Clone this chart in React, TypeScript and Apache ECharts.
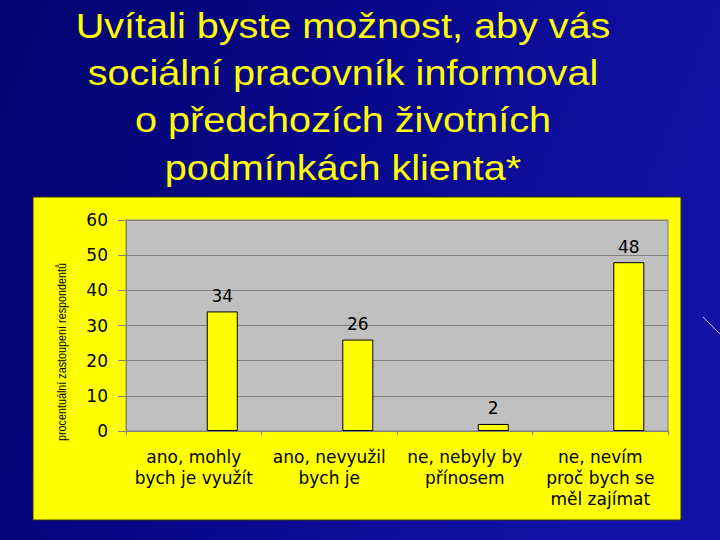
import React, { useEffect, useRef } from "react";
import * as echarts from "echarts";

const titleLines = [
  "Uvítali byste možnost, aby vás",
  "sociální pracovník informoval",
  "o předchozích životních",
  "podmínkách klienta*",
];
const categories = [
  "ano, mohly\nbych je využít",
  "ano, nevyužil\nbych je",
  "ne, nebyly by\npřínosem",
  "ne, nevím\nproč bych se\nměl zajímat",
];
const values = [34, 26, 2, 48];
const yAxisTitle = "procentuální zastoupení respondentů";

const WIDE = '"DejaVu Sans", Verdana, sans-serif';

export default function App() {
  const ref = useRef<HTMLDivElement>(null);
  useEffect(() => {
    if (!ref.current) return;
    const chart = echarts.init(ref.current, undefined, { renderer: "svg" });
    const titleY = [44, 91, 138, 186];
    chart.setOption({
      animation: false,
      backgroundColor: {
        type: "linear",
        x: 0,
        y: 0,
        x2: 1,
        y2: 0.3,
        colorStops: [
          { offset: 0, color: "#03036e" },
          { offset: 0.5, color: "#08088a" },
          { offset: 1, color: "#1212a6" },
        ],
      },
      graphic: [
        ...titleLines.map((t, i) => ({
          type: "text",
          x: 343,
          y: titleY[i],
          scaleX: 1.1,
          style: {
            text: t,
            fill: "#ffff00",
            font: '36px "Liberation Sans", Arial, sans-serif',
            textAlign: "center",
            textVerticalAlign: "bottom",
          },
        })),
        {
          type: "rect",
          z: -10,
          shape: { x: 33, y: 197, width: 648, height: 323 },
          style: { fill: "#ffff00", stroke: "#333300", lineWidth: 1 },
        },
        {
          type: "line",
          shape: { x1: 703, y1: 317, x2: 720, y2: 334 },
          style: { stroke: "#d8b8ff", lineWidth: 1 },
        },
        {
          type: "text",
          x: 62,
          y: 352,
          rotation: Math.PI / 2,
          scaleX: 0.83,
          style: {
            text: yAxisTitle,
            fill: "#000",
            font: '13px "Liberation Sans", Arial, sans-serif',
            textAlign: "center",
            textVerticalAlign: "middle",
          },
        },
      ],
      grid: {
        left: 126,
        top: 220,
        width: 542,
        height: 211,
        show: true,
        backgroundColor: "#c0c0c0",
        borderColor: "#808080",
        borderWidth: 1,
      },
      xAxis: {
        type: "category",
        data: categories,
        axisLine: { show: true, lineStyle: { color: "#808080", width: 1 } },
        axisTick: { show: true, length: 4, lineStyle: { color: "#808080" } },
        axisLabel: {
          interval: 0,
          color: "#000",
          fontSize: 17,
          lineHeight: 21,
          margin: 15,
          fontFamily: WIDE,
        },
      },
      yAxis: {
        type: "value",
        min: 0,
        max: 60,
        interval: 10,
        axisLine: { show: true, lineStyle: { color: "#808080", width: 1 } },
        axisTick: { show: true, length: 8, lineStyle: { color: "#808080" } },
        axisLabel: {
          color: "#000",
          fontSize: 17,
          margin: 18,
          fontFamily: WIDE,
        },
        splitLine: { show: true, lineStyle: { color: "#808080", width: 1 } },
      },
      series: [
        {
          type: "bar",
          name: "spacer",
          data: [],
          barWidth: 31,
          barGap: "84%",
        },
        {
          type: "bar",
          name: "values",
          data: values,
          barWidth: 31,
          barGap: "84%",
          itemStyle: { color: "#ffff00", borderColor: "#000", borderWidth: 1 },
          label: {
            show: true,
            position: "top",
            distance: 7,
            color: "#000",
            fontSize: 17,
            fontFamily: WIDE,
          },
        },
      ],
    });
    return () => chart.dispose();
  }, []);
  return (
    <div
      ref={ref}
      style={{ position: "fixed", left: 0, top: 0, width: 720, height: 540 }}
    />
  );
}
